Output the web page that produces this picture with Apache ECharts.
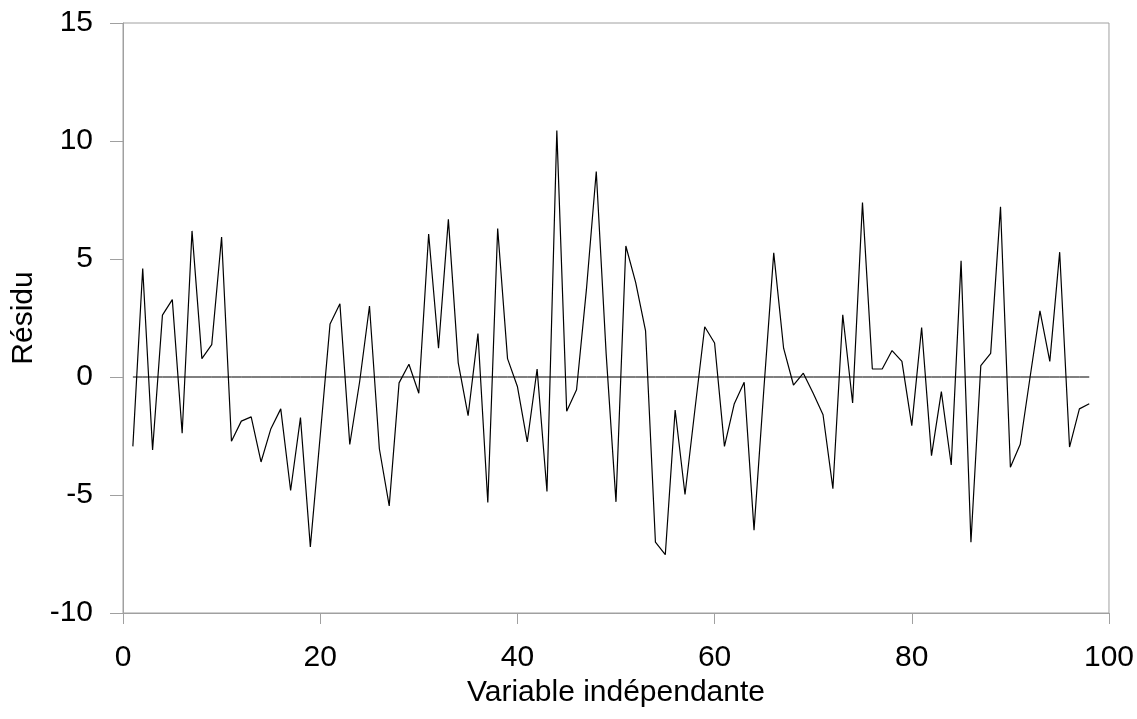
<!DOCTYPE html>
<html>
<head>
<meta charset="utf-8">
<title>Résidu</title>
<script src="https://cdn.jsdelivr.net/npm/echarts@6/dist/echarts.min.js"></script>
<style>
  html, body { margin: 0; padding: 0; background: #fff; }
  #chart { width: 1137px; height: 719px; }
</style>
</head>
<body>
<div id="chart"></div>
<script>
const residus = [
  -2.94, 4.6, -3.09, 2.62, 3.28, -2.38, 6.19, 0.78, 1.37, 5.93,
  -2.72, -1.87, -1.69, -3.6, -2.19, -1.35, -4.81, -1.72, -7.2, -2.5,
  2.25, 3.1, -2.86, -0.2, 3.01, -3.04, -5.46, -0.25, 0.54, -0.69,
  6.06, 1.22, 6.68, 0.6, -1.64, 1.84, -5.32, 6.29, 0.78, -0.4,
  -2.75, 0.34, -4.85, 10.44, -1.45, -0.54, 3.7, 8.71, 1.0, -5.29,
  5.55, 4.0, 1.95, -7.0, -7.53, -1.4, -4.98, -1.4, 2.13, 1.44,
  -2.94, -1.13, -0.22, -6.49, -0.5, 5.26, 1.22, -0.34, 0.16, -0.69,
  -1.6, -4.73, 2.64, -1.1, 7.39, 0.34, 0.34, 1.12, 0.66, -2.06,
  2.1, -3.33, -0.62, -3.73, 4.92, -7.0, 0.48, 1.0, 7.21, -3.82,
  -2.85, 0.0, 2.8, 0.66, 5.29, -2.97, -1.35, -1.13
];
const observations = residus.map((_, i) => i + 1);

const xTitle = "Variable indépendante";
const yTitle = "Résidu";

const font = "'Liberation Sans', Arial, sans-serif";
const axisGrey = "#a0a0a0";

const chart = echarts.init(document.getElementById("chart"), null, { renderer: "canvas" });

chart.setOption({
  animation: false,
  backgroundColor: "#fff",
  grid: {
    left: 123,
    right: 27,
    top: 23,
    bottom: 106,
    show: true,
    borderColor: axisGrey,
    borderWidth: 1,
    backgroundColor: "transparent",
  },
  xAxis: {
    type: "value",
    min: 0,
    max: 100,
    interval: 20,
    name: xTitle,
    nameLocation: "middle",
    nameGap: 62,
    nameTextStyle: { color: "#000", fontSize: 30, fontFamily: font },
    axisLine: { onZero: false, lineStyle: { color: axisGrey, width: 1 } },
    axisTick: { show: true, length: 11, lineStyle: { color: axisGrey } },
    axisLabel: { color: "#000", fontSize: 30, fontFamily: font, margin: 30 },
    splitLine: { show: false },
  },
  yAxis: {
    type: "value",
    min: -10,
    max: 15,
    interval: 5,
    name: yTitle,
    nameLocation: "middle",
    nameGap: 77,
    nameTextStyle: { color: "#000", fontSize: 30, fontFamily: font },
    axisLine: { show: true, onZero: false, lineStyle: { color: axisGrey, width: 1 } },
    axisTick: { show: true, length: 13, lineStyle: { color: axisGrey } },
    axisLabel: { color: "#000", fontSize: 30, fontFamily: font, margin: 30 },
    splitLine: { show: false },
  },
  series: [
    {
      name: "zero",
      type: "line",
      data: observations.map((x) => [x, 0]),
      symbol: "none",
      lineStyle: { color: "#000", width: 1 },
      silent: true,
    },
    {
      name: yTitle,
      type: "line",
      data: observations.map((x, i) => [x, residus[i]]),
      symbol: "none",
      lineStyle: { color: "#000", width: 1.2 },
    },
  ],
});
</script>
</body>
</html>
